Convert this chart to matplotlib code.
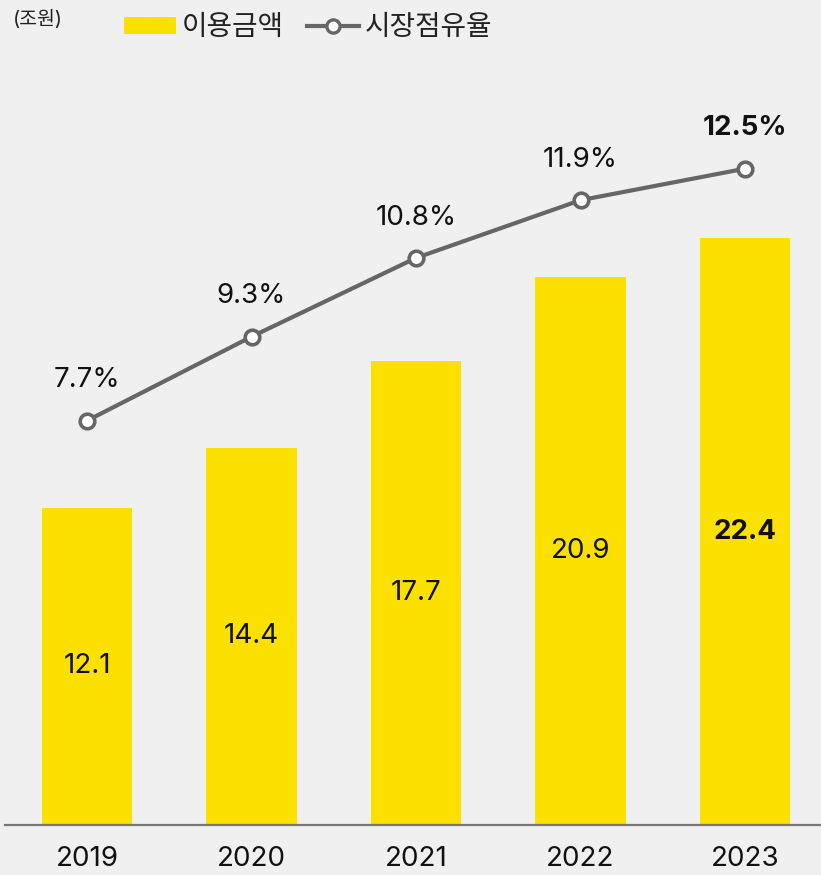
import numpy as np
import matplotlib
matplotlib.use("Agg")
import matplotlib.pyplot as plt
from matplotlib.patches import Patch
from matplotlib.lines import Line2D

plt.rcParams["font.family"] = ["Inter", "Noto Sans CJK KR", "DejaVu Sans"]

years = ["2019", "2020", "2021", "2022", "2023"]
amount = [12.1, 14.4, 17.7, 20.9, 22.4]      # 이용금액 (조원)
share = [7.7, 9.3, 10.8, 11.9, 12.5]         # 시장점유율 (%)

BG = "#F0F0F0"
YELLOW = "#FCE100"
GRAY = "#666666"

fig = plt.figure(figsize=(8.21, 8.75), dpi=100, facecolor=BG)
ax = fig.add_axes([0.0061, 50 / 875, 1 - 0.0061, 765 / 875])
ax.set_facecolor(BG)
x = np.arange(len(years))

ax.bar(x, amount, width=0.553, color=YELLOW, zorder=2)
for i, v in enumerate(amount):
    last = i == len(amount) - 1
    ax.text(x[i], v / 2, f"{v:.1f}", ha="center", va="center", fontsize=20,
            color="#111111", fontweight="bold" if last else "normal")

ax.set_xlim(-0.4985, 4.462)
ax.set_ylim(0, 29.2)
ax.set_yticks([])
ax.set_xticks(x)
ax.set_xticklabels(years, fontsize=20, color="#111111")
ax.tick_params(axis="x", length=0, pad=15)
for s in ["top", "right", "left"]:
    ax.spines[s].set_visible(False)
ax.spines["bottom"].set_color("#777777")
ax.spines["bottom"].set_linewidth(1.6)

ax2 = ax.twinx()
ax2.set_ylim(0, 14.57)
ax2.set_yticks([])
for s in ["top", "right", "left", "bottom"]:
    ax2.spines[s].set_visible(False)
ax2.plot(x, share, "-o", color=GRAY, linewidth=3, markersize=10.5,
         markerfacecolor="white", markeredgecolor=GRAY, markeredgewidth=2.6, zorder=5)
for i, v in enumerate(share):
    last = i == len(share) - 1
    ax2.annotate(f"{v:.1f}%", (x[i], v), textcoords="offset points", xytext=(0, 29),
                 ha="center", va="center", fontsize=20, color="#111111",
                 fontweight="bold" if last else "normal")

fig.text(13 / 821, 1 - 19 / 875, "(조원)", fontsize=14, color="#222222",
         ha="left", va="center")

handles = [
    Patch(facecolor=YELLOW, edgecolor="none", label="이용금액"),
    Line2D([0], [0], color=GRAY, linewidth=3, marker="o", markersize=9.5,
           markerfacecolor="white", markeredgecolor=GRAY, markeredgewidth=2.4,
           label="시장점유율"),
]
fig.legend(handles=handles, loc="center left", bbox_to_anchor=(99 / 821, 1 - 28 / 875),
           ncol=2, frameon=False, fontsize=20, handlelength=1.87, handleheight=0.55,
           handletextpad=0.22, columnspacing=0.83, labelcolor="#222222")

fig.savefig("out.png", dpi=100, facecolor=BG)
